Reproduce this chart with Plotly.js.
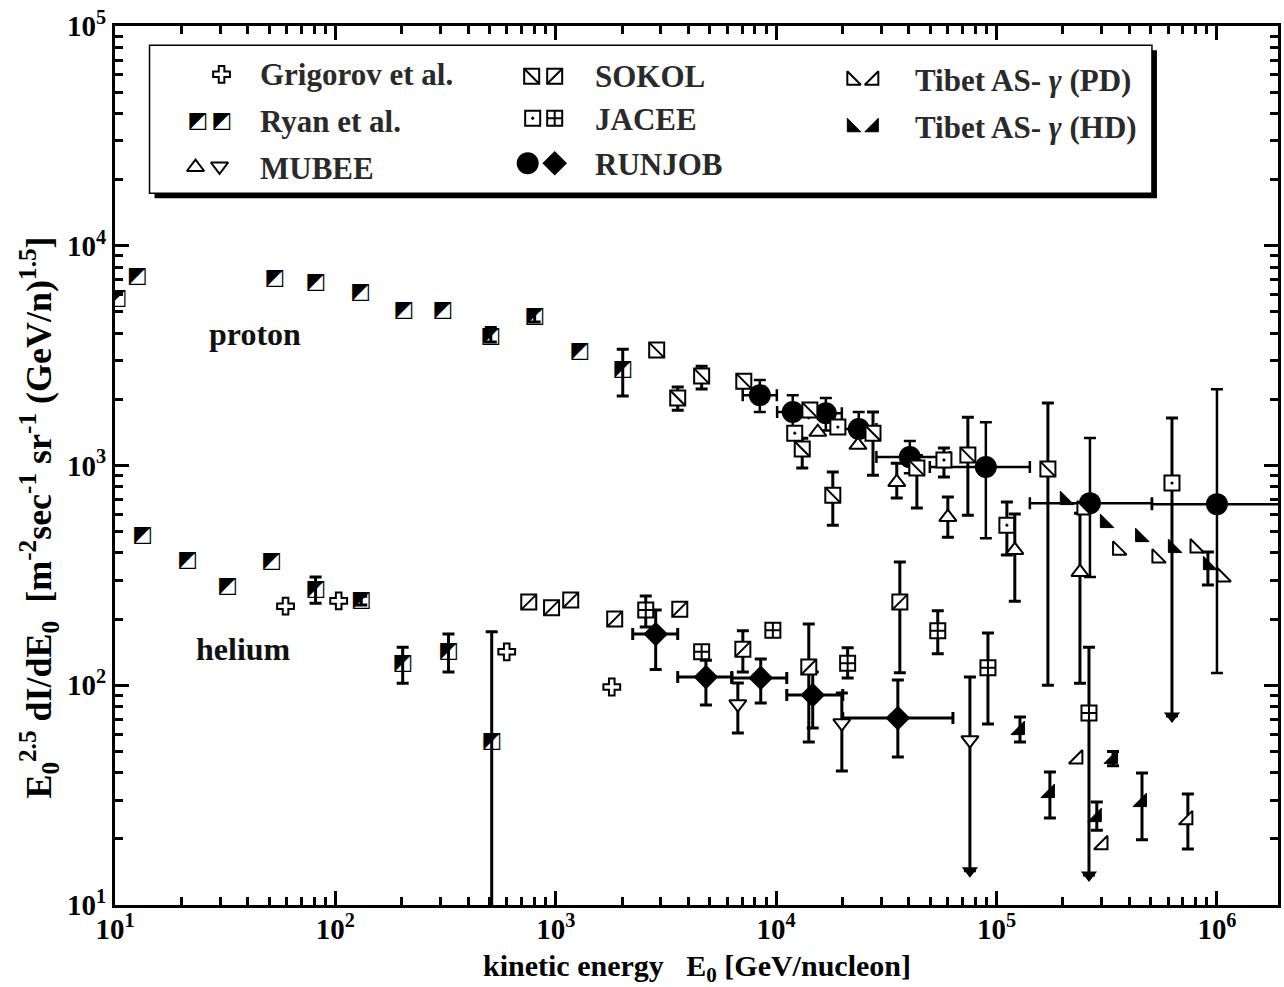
<!DOCTYPE html>
<html><head><meta charset="utf-8">
<script src="https://cdn.plot.ly/plotly-3.0.1.min.js"></script>
<style>html,body{margin:0;padding:0;background:#fff}#chart{width:1284px;height:987px}</style>
</head><body><div id="chart"></div>
<script>
// ================= DATA =================
// E0 in GeV/nucleon, flux = E0^2.5 dI/dE0 ; hi/lo = error-bar ends (null = none)
const ryanP_E  = [10.2, 12.6, 53, 81.3, 130, 204, 307, 507, 802, 1283, 2013];
const ryanP_F  = [5780, 7280, 7120, 6830, 6150, 5090, 5090, 3880, 4780, 3310, 2746];
const ryanP_hi = [null, null, null, null, null, null, null, 4250, 5100, null, 3385];
const ryanP_lo = [null, null, null, null, null, null, null, 3650, 4500, null, 2070];

const ryanHe_E  = [13.3, 21.3, 32.4, 51.3, 81.3, 131, 202, 326, 512];
const ryanHe_F  = [482, 371, 280, 367, 274, 242, 126, 142, 55.2];
const ryanHe_hi = [null, null, null, null, 311, 254, 149, 171, 175];
const ryanHe_lo = [null, null, null, null, 236, 232, 102, 115, 1];

const grigHe_E = [59.4, 103.5, 599, 1795];
const grigHe_F = [229, 242, 142, 98.2];

const sokolP_E  = [2870, 3575, 4590, 7130, 13130, 14220, 18070, 27500, 43500, 74100, 171000];
const sokolP_F  = [3350, 2027, 2552, 2420, 1188, 1787, 733, 1403, 973, 1115, 963];
const sokolP_hi = [null, 2274, 2832, null, 1330, null, 933, 1750, 1110, 1660, 1923];
const sokolP_lo = [null, 1786, 2228, null, 973, null, 535, 904, 640, 594, 100];

const sokolHe_E  = [754, 957, 1169, 1851, 3653, 7060, 14060, 36400];
const sokolHe_F  = [239, 225, 244, 200, 222, 146, 121, 239];
const sokolHe_hi = [null, null, null, null, null, 177, 190, 364];
const sokolHe_lo = [null, null, null, null, null, 115, 55.2, 114];

const jaceeP_E  = [12140, 19050, 57700, 111400, 625000];
const jaceeP_F  = [1403, 1495, 1059, 535, 832];
const jaceeP_hi = [null, null, 1200, 683, 1644];
const jaceeP_lo = [null, null, 886, 391, 72.4];

const jaceeHe_E  = [2560, 4590, 9660, 21100, 54100, 91400, 262600];
const jaceeHe_F  = [220, 142, 178, 126, 177, 120, 74.7];
const jaceeHe_hi = [255, null, null, 148, 218, 173, 149];
const jaceeHe_lo = [184, null, null, 108, 139, 66.6, 13.7];

const mubeeP_E  = [15450, 23500, 35250, 60100, 121000, 239000];
const mubeeP_F  = [1419, 1238, 840, 582, 412, 327];
const mubeeP_hi = [null, null, 1025, 718, 601, 607];
const mubeeP_lo = [null, null, 711, 472, 241, 102];

const mubeeHe_E  = [6700, 19860, 75700];
const mubeeHe_F  = [82.1, 67.3, 56.3];
const mubeeHe_hi = [102.3, 92.2, 109];
const mubeeHe_lo = [60.6, 40.7, 14.3];

const runjobP_E   = [8430, 11890, 16800, 23700, 40400, 89400, 265300, 1000000];
const runjobP_F   = [2090, 1750, 1730, 1465, 1092, 984, 674, 667];
const runjobP_hi  = [2448, 2090, 2027, 1750, 1291, 1575, 1333, 2226];
const runjobP_lo  = [1750, 1419, 1443, 1213, 923, 467, 311, 113.6];
const runjobP_Elo = [7050, 10100, 14060, 19860, 28500, 49800, 141600, 507000];
const runjobP_Ehi = [10070, 14060, 19860, 28500, 61400, 141600, 507000, 3000000];

const runjobHe_E   = [2840, 4800, 8510, 14650, 35650];
const runjobHe_F   = [171, 109, 108, 90.2, 70.9];
const runjobHe_hi  = [220, 130, 131.6, 115, 105.6];
const runjobHe_lo  = [118, 81.3, 83, 63.9, 47.1];
const runjobHe_Elo = [2234, 3575, 6290, 11170, 20050];
const runjobHe_Ehi = [3575, 6290, 11170, 20050, 63400];

const tibPDP_E = [243900, 354000, 534000, 795000, 1054000];
const tibPDP_F = [627, 412, 379, 421, 311];

const tibHDP_E  = [204000, 310000, 448000, 631000, 910000];
const tibHDP_F  = [696, 547, 472, 421, 352];
const tibHDP_hi = [null, null, null, null, 404];
const tibHDP_lo = [null, null, null, null, 286];

const tibPDHe_E  = [233900, 304000, 738000];
const tibPDHe_F  = [46.2, 18.8, 24.4];
const tibPDHe_hi = [null, null, 32.0];
const tibPDHe_lo = [null, null, 18.0];

const tibHDHe_E  = [127700, 174600, 285000, 337600, 457000];
const tibHDHe_F  = [62.5, 32.3, 25.1, 46.2, 29.4];
const tibHDHe_hi = [71.7, 40.3, 29.4, 50, 39.9];
const tibHDHe_lo = [55.2, 24.9, 21.9, 43, 19.8];

// upper-limit arrow heads (end of the long downward error bars)
const arrow_E = [75700, 262600, 625000];
const arrow_F = [14.3, 13.7, 72.4];

const xTickVals = [1e1, 1e2, 1e3, 1e4, 1e5, 1e6];
const xTickText = ['10<sup>1</sup>', '10<sup>2</sup>', '10<sup>3</sup>', '10<sup>4</sup>', '10<sup>5</sup>', '10<sup>6</sup>'];
const yTickVals = [1e1, 1e2, 1e3, 1e4, 1e5];
const yTickText = ['10<sup>1</sup>', '10<sup>2</sup>', '10<sup>3</sup>', '10<sup>4</sup>', '10<sup>5</sup>'];

// ================= STYLE / LAYOUT =================
const FONT = 'Liberation Serif';
const PX = v => (v - 115.5) / 1162.5;   // pixel -> plot-area fraction
const PY = v => (905 - v) / 879.3;

const STY = {
  ryan:    {kind: 'text', text: '\u25E9', size: 22},
  grig:    {symbol: 'cross', size: 14, color: '#fff', lw: 2},
  sokolP:  {symbol: 'square', size: 15, color: '#fff', lw: 2, overlay: 'line-nw'},
  sokolHe: {symbol: 'square', size: 15, color: '#fff', lw: 2, overlay: 'line-ne'},
  jaceeP:  {symbol: 'square-dot', size: 15, color: '#fff', lw: 2},
  jaceeHe: {symbol: 'square-cross', size: 15, color: '#fff', lw: 2},
  mubeeP:  {symbol: 'triangle-up', size: 15, color: '#fff', lw: 2},
  mubeeHe: {symbol: 'triangle-down', size: 15, color: '#fff', lw: 2},
  runjobP: {symbol: 'circle', size: 22, color: '#000', lw: 0},
  runjobHe:{symbol: 'diamond', size: 19, color: '#000', lw: 0},
  tibPDP:  {symbol: 'triangle-sw', size: 15, color: '#fff', lw: 2},
  tibPDHe: {symbol: 'triangle-se', size: 15, color: '#fff', lw: 2},
  tibHDP:  {symbol: 'triangle-sw', size: 15, color: '#000', lw: 1},
  tibHDHe: {symbol: 'triangle-se', size: 15, color: '#000', lw: 1},
  arrow:   {symbol: 'triangle-down', size: 14, color: '#000', lw: 0}
};

function errY(y, hi, lo, thick) {
  return {type: 'data', symmetric: false, visible: true,
    array: y.map((v, i) => hi[i] == null ? NaN : hi[i] - v),
    arrayminus: y.map((v, i) => lo[i] == null ? NaN : v - lo[i]),
    thickness: thick || 3, width: 6, color: '#000'};
}
function errX(x, hi, lo, thick) {
  return {type: 'data', symmetric: false, visible: true,
    array: x.map((v, i) => hi[i] - v),
    arrayminus: x.map((v, i) => v - lo[i]),
    thickness: thick || 3, width: 6, color: '#000'};
}

function series(x, y, sty, extra, xa, ya) {
  const base = {type: 'scatter', x: x, y: y, xaxis: xa || 'x', yaxis: ya || 'y',
    showlegend: false, hoverinfo: 'skip', cliponaxis: true};
  const out = [];
  if (sty.kind === 'text') {
    out.push(Object.assign({}, base, {mode: 'markers+text', text: x.map(() => sty.text),
      textposition: 'middle center', textfont: {family: 'DejaVu Sans', size: sty.size, color: '#000'},
      marker: {size: 2, color: 'rgba(0,0,0,0)'}}, extra || {}));
  } else {
    out.push(Object.assign({}, base, {mode: 'markers',
      marker: {symbol: sty.symbol, size: sty.size, color: sty.color, line: {color: '#000', width: sty.lw}}},
      extra || {}));
    if (sty.overlay) out.push(Object.assign({}, base, {mode: 'markers',
      marker: {symbol: sty.overlay, size: sty.size, color: '#000', line: {color: '#000', width: 2}}}));
  }
  return out;
}

let traces = [];
traces = traces.concat(
  series(runjobP_E, runjobP_F, STY.runjobP, {error_y: errY(runjobP_F, runjobP_hi, runjobP_lo, 2.5), error_x: errX(runjobP_E, runjobP_Ehi, runjobP_Elo, 2.5)}),
  series(runjobHe_E, runjobHe_F, STY.runjobHe, {error_y: errY(runjobHe_F, runjobHe_hi, runjobHe_lo), error_x: errX(runjobHe_E, runjobHe_Ehi, runjobHe_Elo)}),
  series(sokolP_E, sokolP_F, STY.sokolP, {error_y: errY(sokolP_F, sokolP_hi, sokolP_lo)}),
  series(sokolHe_E, sokolHe_F, STY.sokolHe, {error_y: errY(sokolHe_F, sokolHe_hi, sokolHe_lo)}),
  series(jaceeP_E, jaceeP_F, STY.jaceeP, {error_y: errY(jaceeP_F, jaceeP_hi, jaceeP_lo)}),
  series(jaceeHe_E, jaceeHe_F, STY.jaceeHe, {error_y: errY(jaceeHe_F, jaceeHe_hi, jaceeHe_lo)}),
  series(mubeeP_E, mubeeP_F, STY.mubeeP, {error_y: errY(mubeeP_F, mubeeP_hi, mubeeP_lo)}),
  series(mubeeHe_E, mubeeHe_F, STY.mubeeHe, {error_y: errY(mubeeHe_F, mubeeHe_hi, mubeeHe_lo)}),
  series(ryanP_E, ryanP_F, STY.ryan, {error_y: errY(ryanP_F, ryanP_hi, ryanP_lo)}),
  series(ryanHe_E, ryanHe_F, STY.ryan, {error_y: errY(ryanHe_F, ryanHe_hi, ryanHe_lo)}),
  series(grigHe_E, grigHe_F, STY.grig),
  series(tibPDP_E, tibPDP_F, STY.tibPDP),
  series(tibHDP_E, tibHDP_F, STY.tibHDP, {error_y: errY(tibHDP_F, tibHDP_hi, tibHDP_lo)}),
  series(tibPDHe_E, tibPDHe_F, STY.tibPDHe, {error_y: errY(tibPDHe_F, tibPDHe_hi, tibPDHe_lo)}),
  series(tibHDHe_E, tibHDHe_F, STY.tibHDHe, {error_y: errY(tibHDHe_F, tibHDHe_hi, tibHDHe_lo)}),
  series(arrow_E, arrow_F, STY.arrow)
);

// ---------- custom legend (icons on an overlay axis in plot-area fractions) ----------
const LEG_ICONS = [
  ['grig', 222, 74], ['ryan', 198, 121], ['ryan', 222, 121], ['mubeeP', 196, 167], ['mubeeHe', 220, 166],
  ['sokolP', 532, 76], ['sokolHe', 555, 76], ['jaceeP', 533, 118], ['jaceeHe', 555, 118],
  ['runjobP', 528, 163], ['runjobHe', 555, 163],
  ['tibPDP', 852, 80], ['tibPDHe', 874, 80], ['tibHDP', 852, 127], ['tibHDHe', 874, 127]
];
LEG_ICONS.forEach(([k, px, py]) => {
  traces = traces.concat(series([PX(px)], [PY(py)], STY[k], null, 'x2', 'y2'));
});
const LEG_TEXT = [
  ['Grigorov et al.', 258, 74], ['Ryan et al.', 258, 121], ['MUBEE', 258, 168],
  ['SOKOL', 593, 76], ['JACEE', 593, 119], ['RUNJOB', 593, 164],
  ['Tibet AS- <i>\u03B3</i> (PD)', 913, 80], ['Tibet AS- <i>\u03B3</i> (HD)', 913, 127]
];

const annotations = LEG_TEXT.map(([t, px, py]) => ({
  text: t, xref: 'paper', yref: 'paper', x: PX(px), y: PY(py), xanchor: 'left', yanchor: 'middle',
  showarrow: false, font: {family: FONT, size: 31, color: '#2a2a2a', weight: 'bold'}
}));
annotations.push(
  {text: 'proton', xref: 'paper', yref: 'paper', x: PX(255), y: PY(334), xanchor: 'center', yanchor: 'middle',
   showarrow: false, font: {family: FONT, size: 32, color: '#111', weight: 'bold'}},
  {text: 'helium', xref: 'paper', yref: 'paper', x: PX(244), y: PY(649), xanchor: 'center', yanchor: 'middle',
   showarrow: false, font: {family: FONT, size: 32, color: '#111', weight: 'bold'}},
  {text: 'E<sub>0</sub><sup>2.5</sup>\u00A0dI/dE<sub>0</sub>\u00A0\u00A0[m<sup>-2</sup>sec<sup>-1</sup>\u00A0sr<sup>-1</sup>\u00A0(GeV/n)<sup>1.5</sup>]',
   xref: 'paper', yref: 'paper', x: PX(40), y: PY(517), textangle: -90, showarrow: false,
   xanchor: 'center', yanchor: 'middle', font: {family: FONT, size: 36, color: '#000', weight: 'bold'}},
  {text: 'kinetic energy\u00A0\u00A0\u00A0E<sub>0</sub> [GeV/nucleon]',
   xref: 'paper', yref: 'paper', x: PX(697), y: PY(968), showarrow: false,
   xanchor: 'center', yanchor: 'middle', font: {family: FONT, size: 30, color: '#000', weight: 'bold'}}
);

const shapes = [
  {type: 'rect', xref: 'paper', yref: 'paper', x0: PX(155), x1: PX(1157), y0: PY(198), y1: PY(50),
   fillcolor: '#000', line: {width: 0}, layer: 'below'},
  {type: 'rect', xref: 'paper', yref: 'paper', x0: PX(150), x1: PX(1152), y0: PY(193), y1: PY(45),
   fillcolor: '#fff', line: {color: '#000', width: 1.5}, layer: 'below'}
];

function minorVals(lo, hi) {
  const v = [];
  for (let d = lo; d < hi; d++) for (let k = 2; k <= 9; k++) v.push(k * Math.pow(10, d));
  return v;
}
const tickFont = {family: FONT, size: 29, color: '#000', weight: 'bold'};
const commonAxis = {
  type: 'log', showgrid: false, zeroline: false, showline: true, linewidth: 3, linecolor: '#000',
  mirror: 'allticks', ticks: 'inside', ticklen: 14, tickwidth: 3, tickcolor: '#000',
  tickmode: 'array', tickfont: tickFont
};

const layout = {
  width: 1284, height: 987,
  margin: {l: 115, r: 6, t: 26, b: 82},
  paper_bgcolor: '#fff', plot_bgcolor: '#fff',
  showlegend: false,
  font: {family: FONT, color: '#000'},
  xaxis: Object.assign({}, commonAxis, {
    range: [1, 6.277], tickvals: xTickVals, ticktext: xTickText, ticklabelstandoff: -4,
    minor: {tickmode: 'array', tickvals: minorVals(1, 7), ticks: 'inside', ticklen: 8, tickwidth: 3, tickcolor: '#000', showgrid: false}
  }),
  yaxis: Object.assign({}, commonAxis, {
    range: [1, 5], tickvals: yTickVals, ticktext: yTickText,
    minor: {tickmode: 'array', tickvals: minorVals(1, 5), ticks: 'inside', ticklen: 8, tickwidth: 3, tickcolor: '#000', showgrid: false}
  }),
  xaxis2: {overlaying: 'x', range: [0, 1], visible: false, fixedrange: true},
  yaxis2: {overlaying: 'y', range: [0, 1], visible: false, fixedrange: true},
  annotations: annotations,
  shapes: shapes
};

Plotly.newPlot('chart', traces, layout, {staticPlot: true, displayModeBar: false});
</script>
</body></html>
